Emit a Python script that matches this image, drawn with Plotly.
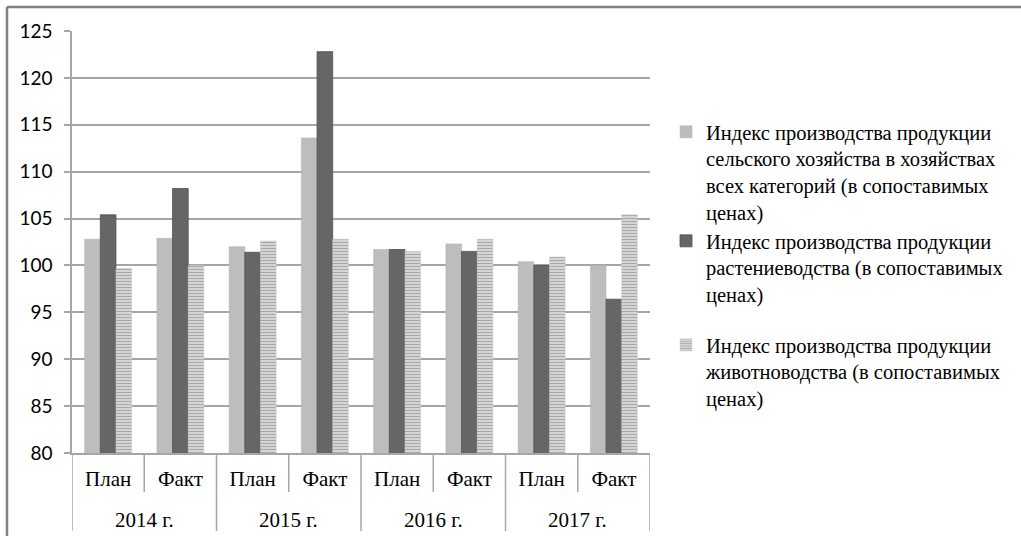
import plotly.graph_objects as go

years = ["2014 г.", "2014 г.", "2015 г.", "2015 г.", "2016 г.", "2016 г.", "2017 г.", "2017 г."]
kinds = ["План", "Факт", "План", "Факт", "План", "Факт", "План", "Факт"]

agri_total = [102.8, 102.9, 102.0, 113.6, 101.7, 102.3, 100.4, 100.0]
crop_prod = [105.4, 108.2, 101.4, 122.8, 101.7, 101.5, 100.0, 96.4]
livestock = [99.7, 100.0, 102.6, 102.8, 101.5, 102.8, 100.9, 105.4]

names = [
    "Индекс производства продукции<br>сельского хозяйства в хозяйствах<br>всех категорий (в сопоставимых<br>ценах)",
    "Индекс производства продукции<br>растениеводства (в сопоставимых<br>ценах)",
    "Индекс производства продукции<br>животноводства (в сопоставимых<br>ценах)",
]

W, H = 1021, 536
L, R, T, B = 72, 650, 31, 453

def px_x(x):
    return (x - L) / (R - L)

def px_y(y):
    return (B - y) / (B - T)

serif = "Times New Roman"
xpos = list(range(len(kinds)))
grid = "#a6a6a6"

fig = go.Figure()
fig.add_trace(go.Bar(x=xpos, y=agri_total, name=names[0],
                     marker=dict(color="#bdbdbd", line=dict(color="#b0b0b0", width=0.5)),
                     legend="legend"))
fig.add_trace(go.Bar(x=xpos, y=crop_prod, name=names[1],
                     marker=dict(color="#666666", line=dict(color="#505050", width=0.8)),
                     legend="legend2"))
fig.add_trace(go.Bar(x=xpos, y=livestock, name=names[2],
                     marker=dict(color="#e4e4e4", line=dict(color="#c8c8c8", width=0.5),
                                 pattern=dict(shape="-", size=3, solidity=0.5,
                                              fgcolor="#a8a8a8", bgcolor="#e4e4e4", fillmode="replace")),
                     legend="legend3"))

legend_common = dict(valign="top", xanchor="left", yanchor="top", itemwidth=30,
                     bgcolor="rgba(0,0,0,0)", borderwidth=0)

fig.update_layout(
    width=W, height=H,
    margin=dict(l=L, r=W - R, t=T, b=H - B),
    paper_bgcolor="white", plot_bgcolor="white",
    barmode="group", bargap=0.35, bargroupgap=0,
    showlegend=True,
    legend=dict(x=px_x(666), y=px_y(112), font=dict(family=serif, size=20.5, color="black"), **legend_common),
    legend2=dict(x=px_x(666), y=px_y(221), font=dict(family=serif, size=20.5, color="black"), **legend_common),
    legend3=dict(x=px_x(666), y=px_y(325), font=dict(family=serif, size=20.5, color="black"), **legend_common),
    xaxis=dict(
        range=[-0.5, len(kinds) - 0.5],
        tickvals=xpos, ticktext=kinds,
        showline=True, linecolor=grid, linewidth=1.5,
        ticks="", ticklabelstandoff=6,
        tickfont=dict(family=serif, size=21, color="black"),
        showgrid=False, zeroline=False,
    ),
    yaxis=dict(
        range=[80, 125], dtick=5, tick0=80,
        showline=True, linecolor=grid, linewidth=1.5,
        ticks="outside", ticklen=6, tickcolor=grid, tickwidth=1.5,
        ticklabelstandoff=8,
        showgrid=True, gridcolor=grid, gridwidth=1.5,
        tickfont=dict(family="Lato", size=19, color="black"),
        zeroline=False,
    ),
)

# category dividers below the axis: long between years / at edges, short inside a year
for b in range(len(kinds) + 1):
    edge = b == 0 or b == len(kinds) or years[b - 1] != years[b]
    fig.add_shape(type="line", xref="x", yref="paper",
                  x0=b - 0.5, x1=b - 0.5, y0=0, y1=px_y(531 if edge else 492),
                  line=dict(color=grid, width=1.5))

# year labels centred under their categories
for yr in dict.fromkeys(years):
    idx = [i for i, v in enumerate(years) if v == yr]
    fig.add_annotation(x=sum(idx) / len(idx), xref="x", y=px_y(520), yref="paper",
                       text=yr, showarrow=False, yanchor="middle",
                       font=dict(family=serif, size=21, color="black"))

# outer chart frame (top and left edges visible)
fig.add_shape(type="line", xref="paper", yref="paper",
              x0=px_x(7), x1=px_x(W + 5), y0=px_y(7), y1=px_y(7),
              line=dict(color="#808080", width=2.5))
fig.add_shape(type="line", xref="paper", yref="paper",
              x0=px_x(7), x1=px_x(7), y0=px_y(7), y1=px_y(H + 5),
              line=dict(color="#808080", width=2.5))

fig.write_html("out.html", config={"displayModeBar": False},
               post_script="document.body.style.margin='0';")
